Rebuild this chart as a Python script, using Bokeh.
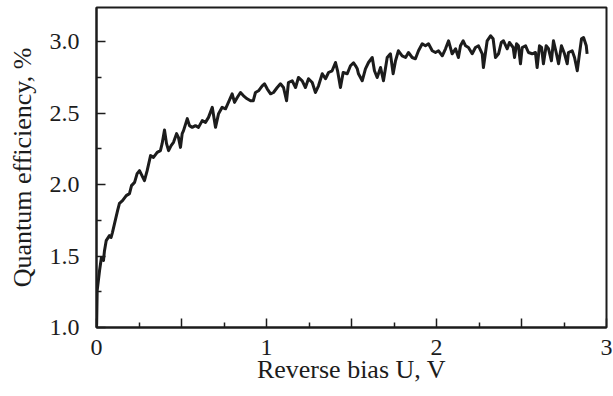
from bokeh.plotting import figure
from bokeh.models import Range1d, FixedTicker
from bokeh.embed import file_html
from bokeh.resources import INLINE

# Reverse bias U (V)
bias = [0.000, 0.001, 0.004, 0.018, 0.029, 0.041, 0.047, 0.057, 0.076, 0.086,
        0.094, 0.106, 0.124, 0.135, 0.153, 0.175, 0.194, 0.206, 0.224, 0.239,
        0.253, 0.282, 0.298, 0.318, 0.335, 0.357, 0.376, 0.386, 0.400, 0.412,
        0.424, 0.439, 0.453, 0.471, 0.482, 0.494, 0.504, 0.512, 0.534, 0.547,
        0.563, 0.582, 0.600, 0.622, 0.641, 0.659, 0.681, 0.700, 0.718, 0.739,
        0.759, 0.776, 0.798, 0.812, 0.828, 0.847, 0.865, 0.886, 0.906, 0.922,
        0.935, 0.953, 0.975, 0.988, 1.004, 1.024, 1.041, 1.063, 1.082, 1.100,
        1.118, 1.129, 1.151, 1.171, 1.188, 1.210, 1.229, 1.247, 1.269, 1.288,
        1.306, 1.328, 1.347, 1.365, 1.386, 1.406, 1.418, 1.435, 1.451, 1.475,
        1.494, 1.512, 1.524, 1.534, 1.541, 1.563, 1.582, 1.600, 1.622, 1.635,
        1.651, 1.671, 1.688, 1.710, 1.729, 1.745, 1.759, 1.776, 1.798, 1.818,
        1.835, 1.857, 1.876, 1.894, 1.916, 1.935, 1.953, 1.975, 1.994, 2.012,
        2.034, 2.053, 2.071, 2.092, 2.112, 2.129, 2.141, 2.157, 2.171, 2.188,
        2.210, 2.229, 2.247, 2.269, 2.276, 2.298, 2.318, 2.333, 2.347, 2.365,
        2.381, 2.394, 2.416, 2.429, 2.451, 2.459, 2.471, 2.482, 2.494, 2.504,
        2.524, 2.541, 2.563, 2.582, 2.592, 2.606, 2.618, 2.629, 2.645, 2.659,
        2.676, 2.688, 2.704, 2.718, 2.735, 2.753, 2.769, 2.776, 2.798, 2.812,
        2.828, 2.841, 2.853, 2.865, 2.881, 2.886]

# Quantum efficiency (%)
efficiency = [1.000, 1.028, 1.259, 1.399, 1.490, 1.469, 1.538, 1.608, 1.643, 1.631,
              1.666, 1.727, 1.818, 1.869, 1.888, 1.923, 1.937, 1.993, 2.016, 2.077,
              2.098, 2.028, 2.098, 2.203, 2.191, 2.226, 2.238, 2.287, 2.383, 2.287,
              2.238, 2.273, 2.296, 2.357, 2.331, 2.261, 2.357, 2.378, 2.462, 2.413,
              2.401, 2.413, 2.401, 2.448, 2.436, 2.471, 2.541, 2.401, 2.497, 2.541,
              2.531, 2.576, 2.636, 2.576, 2.610, 2.645, 2.622, 2.601, 2.587, 2.587,
              2.645, 2.657, 2.692, 2.706, 2.671, 2.636, 2.645, 2.680, 2.706, 2.680,
              2.587, 2.715, 2.727, 2.680, 2.750, 2.727, 2.680, 2.741, 2.715, 2.645,
              2.692, 2.776, 2.741, 2.785, 2.797, 2.855, 2.797, 2.680, 2.785, 2.776,
              2.832, 2.853, 2.832, 2.811, 2.776, 2.727, 2.811, 2.855, 2.890, 2.797,
              2.750, 2.820, 2.727, 2.890, 2.916, 2.776, 2.867, 2.937, 2.902, 2.890,
              2.925, 2.890, 2.881, 2.937, 2.986, 2.972, 2.986, 2.937, 2.925, 2.937,
              2.902, 2.951, 3.007, 2.916, 2.951, 2.890, 2.972, 3.007, 2.972, 2.960,
              2.916, 2.960, 2.972, 2.916, 2.820, 3.007, 3.042, 3.021, 2.890, 2.916,
              2.995, 3.007, 2.951, 2.995, 2.960, 2.890, 2.986, 2.972, 2.846, 2.960,
              2.972, 2.925, 2.916, 2.925, 2.820, 2.972, 2.960, 2.846, 2.972, 2.951,
              2.867, 3.007, 2.925, 2.846, 2.972, 2.916, 2.846, 2.925, 2.937, 2.890,
              2.797, 2.916, 3.021, 3.030, 2.972, 2.916]

x_major = [0, 0.5, 1, 1.5, 2, 2.5, 3]
x_minor = [0.25, 0.75, 1.25, 1.75, 2.25, 2.75]
x_labels = {0: "0", 0.5: "", 1: "1", 1.5: "", 2: "2", 2.5: "", 3: "3"}
y_major = [1.0, 1.5, 2.0, 2.5, 3.0]
y_minor = [1.25, 1.75, 2.25, 2.75, 3.25]
y_labels = {1.0: "1.0", 1.5: "1.5", 2.0: "2.0", 2.5: "2.5", 3.0: "3.0"}

FONT = "Liberation Serif"
INK = "#1c1c1c"

p = figure(width=613, height=396, output_backend="svg", toolbar_location=None,
           x_range=Range1d(0, 3), y_range=Range1d(1.0, 3.24),
           min_border_left=96, min_border_right=7, min_border_top=7,
           min_border_bottom=69)
p.grid.visible = False
p.background_fill_color = "white"
p.border_fill_color = "white"
p.outline_line_color = INK
p.outline_line_width = 2

p.line(bias, efficiency, line_color=INK, line_width=3, line_join="round")

xa = p.xaxis[0]
xa.ticker = FixedTicker(ticks=x_major, minor_ticks=x_minor)
xa.major_label_overrides = x_labels
xa.axis_label = "Reverse bias U, V"
ya = p.yaxis[0]
ya.ticker = FixedTicker(ticks=y_major, minor_ticks=y_minor)
ya.major_label_overrides = y_labels
ya.axis_label = "Quantum efficiency, %"

for ax in (xa, ya):
    ax.axis_line_color = INK
    ax.axis_line_width = 2
    ax.major_tick_in = 9
    ax.major_tick_out = 0
    ax.minor_tick_in = 5
    ax.minor_tick_out = 0
    ax.major_tick_line_color = INK
    ax.minor_tick_line_color = INK
    ax.major_tick_line_width = 1.5
    ax.minor_tick_line_width = 1.5
    ax.major_label_text_font = FONT
    ax.major_label_text_font_size = "24px"
    ax.major_label_text_color = INK
    ax.axis_label_text_font = FONT
    ax.axis_label_text_font_size = "26px"
    ax.axis_label_text_font_style = "normal"
    ax.axis_label_text_color = INK

xa.major_label_standoff = 12
xa.axis_label_standoff = -3
ya.major_label_standoff = 17
ya.axis_label_standoff = 10

open("out.html", "w").write(file_html(p, INLINE))
